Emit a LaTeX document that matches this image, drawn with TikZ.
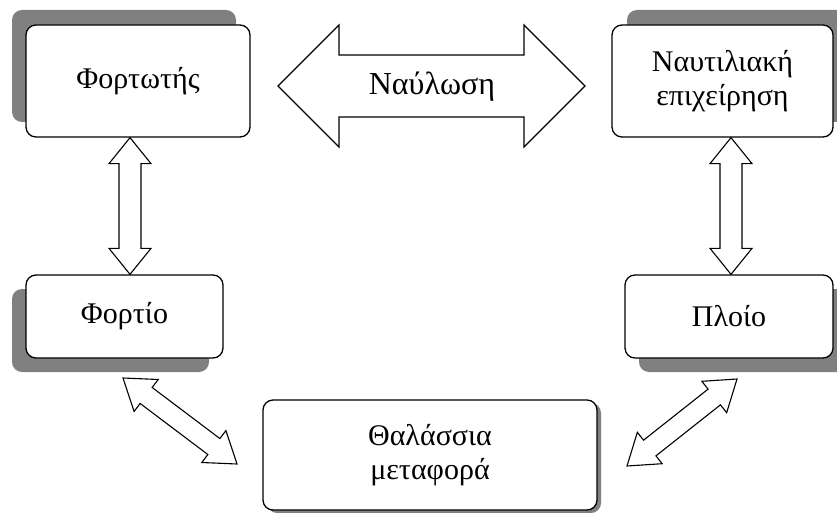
\documentclass[tikz,border=0pt]{standalone}
\usepackage{fontspec}
\setmainfont{Liberation Serif}
\usetikzlibrary{calc,shadows}
\tikzset{box/.style={draw, line width=1.3pt, rounded corners=10pt, fill=white, align=center, inner sep=0pt, font=\fontsize{30}{34}\selectfont},
  boxshadow/.style 2 args={drop shadow={shadow xshift=#1, shadow yshift=#2, fill=gray, opacity=1}},
  blockarrow/.style={draw, fill=white, line width=1.1pt, line join=miter},
  label/.style={font=\fontsize{32}{36}\selectfont, inner sep=0pt}}
% double block arrow: tips #1 and #2, shaft half width #3, head half width #4, head length #5
\newcommand\blockarrow[5]{%
  \draw[blockarrow] (#1)
    -- ($(#1)!#5!(#2)!#4!90:(#2)$) -- ($(#1)!#5!(#2)!#3!90:(#2)$)
    -- ($(#2)!#5!(#1)!#3!-90:(#1)$) -- ($(#2)!#5!(#1)!#4!-90:(#1)$)
    -- (#2)
    -- ($(#2)!#5!(#1)!#4!90:(#1)$) -- ($(#2)!#5!(#1)!#3!90:(#1)$)
    -- ($(#1)!#5!(#2)!#3!-90:(#2)$) -- ($(#1)!#5!(#2)!#4!-90:(#2)$) -- cycle;}

\begin{document}
\begin{tikzpicture}[x=1pt,y=-1pt]
  \useasboundingbox (0,0) rectangle (837,513);
  % boxes
  \node[box, boxshadow={-14pt}{15pt}, minimum width=224pt, minimum height=112pt] (fortotis) at (138,81) {Φορτωτής};
  \node[box, boxshadow={15pt}{15pt}, minimum width=221pt, minimum height=112pt] (naut) at (722.5,81) {Ναυτιλιακή\\επιχείρηση};
  \node[box, boxshadow={-14pt}{-14pt}, minimum width=197pt, minimum height=83pt] (fortio) at (124.5,316.5) {Φορτίο};
  \node[box, boxshadow={14pt}{-14pt}, minimum width=208pt, minimum height=83pt] (ploio) at (729,316.5) {Πλοίο};
  \node[box, boxshadow={4pt}{-3pt}, minimum width=334pt, minimum height=110pt] (thal) at (430,455) {Θαλάσσια\\μεταφορά};
  % arrow ends
  \coordinate (nl-l) at (278,86);
  \coordinate (nl-r) at (585,86);
  \coordinate (fv-t) at (fortotis.south -| 130,0);
  \coordinate (fv-b) at (fortio.north -| 130,0);
  \coordinate (pv-t) at (naut.south -| 731,0);
  \coordinate (pv-b) at (ploio.north -| 731,0);
  \coordinate (fd-t) at (123,378);
  \coordinate (fd-b) at (237,464);
  \coordinate (pd-t) at (737,379);
  \coordinate (pd-b) at (627,466);
  % arrows
  \blockarrow{nl-l}{nl-r}{31pt}{61pt}{61pt}
  \node[label] (naulosi) at (432,87) {Ναύλωση};
  \blockarrow{fv-t}{fv-b}{11pt}{21pt}{26pt}
  \blockarrow{pv-t}{pv-b}{11pt}{21pt}{26pt}
  \blockarrow{fd-t}{fd-b}{10pt}{20pt}{29pt}
  \blockarrow{pd-t}{pd-b}{10pt}{20pt}{29pt}
\end{tikzpicture}
\end{document}
